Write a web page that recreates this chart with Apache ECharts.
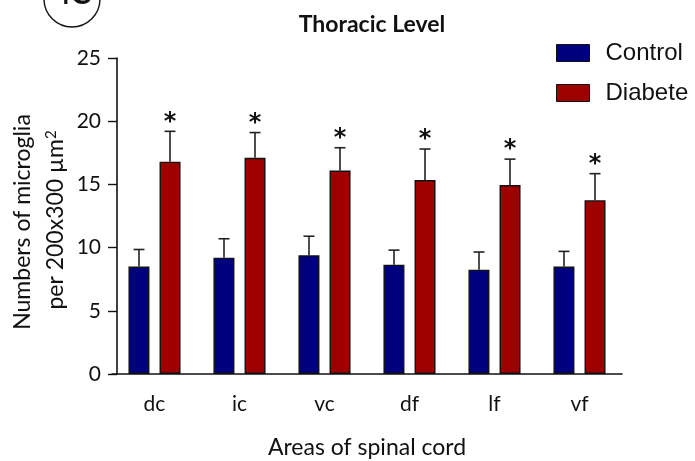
<!DOCTYPE html>
<html>
<head>
<meta charset="utf-8">
<script src="https://cdn.jsdelivr.net/npm/echarts@6/dist/echarts.min.js"></script>
<style>
	html, body { margin: 0; padding: 0; background: #fff; }
	#chart { width: 695px; height: 461px; }
</style>
</head>
<body>
<div id="chart"></div>
<script>
const categories = ["dc", "ic", "vc", "df", "lf", "vf"];
const controlMean = [8.5, 9.2, 9.4, 8.65, 8.25, 8.5];
const controlSem = [1.35, 1.5, 1.5, 1.15, 1.4, 1.2];
const diabeteMean = [16.8, 17.1, 16.1, 15.35, 14.95, 13.75];
const diabeteSem = [2.4, 2.0, 1.8, 2.45, 2.05, 2.1];
const significant = [true, true, true, true, true, true];
const yTicks = [0, 5, 10, 15, 20, 25];

const BODY_FONT = "Lato, 'Open Sans', sans-serif";
const BAR_W = 21;
const BAR_SHIFT = 15.5; // half of (bar width + gap)

// error bar (upper whisker only) + optional star
function errorBar(shift, withStar) {
	return function (params, api) {
		const i = api.value(0);
		const base = api.coord([i, api.value(1)]);
		const tip = api.coord([i, api.value(1) + api.value(2)]);
		const x = base[0] + shift;
		const kids = [
			{
				type: "line",
				shape: { x1: x, y1: base[1], x2: x, y2: tip[1] },
				style: { stroke: "#222", lineWidth: 1.6 },
			},
			{
				type: "line",
				shape: { x1: x - 5.5, y1: tip[1], x2: x + 5.5, y2: tip[1] },
				style: { stroke: "#222", lineWidth: 1.6 },
			},
		];
		if (withStar && significant[i]) {
			kids.push({
				type: "text",
				x: x,
				y: tip[1] + 3,
				style: {
					text: "*",
					font: "bold 24px 'DejaVu Sans', sans-serif",
					fill: "#111",
					align: "center",
					verticalAlign: "bottom",
				},
			});
		}
		return { type: "group", children: kids };
	};
}

const myChart = echarts.init(document.getElementById("chart"));

myChart.setOption({
	animation: false,
	backgroundColor: "#fff",
	grid: { left: 112, right: 73, top: 58, bottom: 87, containLabel: false, outerBoundsMode: "none" },
	title: {
		text: "Thoracic Level",
		left: 367,
		top: 8,
		textAlign: "center",
		textStyle: { fontFamily: BODY_FONT, fontWeight: "bold", fontSize: 23, color: "#111" },
	},
	legend: {
		orient: "vertical",
		left: 551,
		top: 36,
		itemWidth: 33,
		itemHeight: 17,
		itemGap: 16,
		icon: "rect",
		data: ["Control", "Diabete"],
		itemStyle: { borderColor: "#111", borderWidth: 1 },
		textStyle: {
			fontFamily: "'Liberation Sans', Arial, sans-serif",
			fontSize: 24,
			color: "#111",
			padding: [0, 0, 0, 11],
		},
	},
	xAxis: {
		type: "category",
		data: categories,
		name: "Areas of spinal cord",
		nameLocation: "middle",
		nameGap: 62,
		nameTextStyle: { fontFamily: BODY_FONT, fontSize: 23, color: "#111" },
		axisLine: { lineStyle: { color: "#111", width: 1.6 } },
		axisTick: { alignWithLabel: true, length: 8, lineStyle: { color: "#111", width: 1.4 } },
		axisLabel: { fontFamily: BODY_FONT, fontSize: 21, color: "#111", margin: 20 },
	},
	yAxis: {
		type: "value",
		min: 0,
		max: 25,
		interval: 5,
		offset: -5,
		splitLine: { show: false },
		axisLine: { show: true, lineStyle: { color: "#111", width: 1.6 } },
		axisTick: { show: true, length: 9, lineStyle: { color: "#111", width: 1.4 } },
		axisLabel: {
			fontFamily: BODY_FONT,
			fontSize: 21,
			color: "#111",
			margin: 16,
			formatter: v => (yTicks.includes(v) ? String(v) : ""),
		},
	},
	graphic: [
		{
			type: "circle",
			shape: { cx: 72, cy: -1, r: 28 },
			style: { fill: "#fff", stroke: "#111", lineWidth: 1.4 },
		},
		{
			type: "text",
			x: 72,
			y: -6,
			z: 100,
			style: {
				text: "4C",
				font: "bold 30px " + BODY_FONT,
				fill: "#111",
				align: "center",
				verticalAlign: "middle",
			},
		},
		{
			type: "text",
			x: 23,
			y: 222,
			rotation: Math.PI / 2,
			style: {
				text: "Numbers of microglia",
				font: "23px " + BODY_FONT,
				fill: "#111",
				align: "center",
				verticalAlign: "middle",
			},
		},
		{
			type: "text",
			x: 56,
			y: 220,
			rotation: Math.PI / 2,
			style: {
				text: "per 200x300 µm{sup|2}",
				font: "23px " + BODY_FONT,
				fill: "#111",
				align: "center",
				verticalAlign: "middle",
				rich: {
					sup: { fontSize: 15, fontFamily: BODY_FONT, verticalAlign: "top", padding: [0, 0, 10, 0], fill: "#111" },
				},
			},
		},
	],
	series: [
		{
			name: "Control",
			type: "bar",
			data: controlMean,
			barWidth: BAR_W,
			barGap: "48%",
			itemStyle: { color: "#00007f", borderColor: "#111", borderWidth: 1.4 },
		},
		{
			name: "Diabete",
			type: "bar",
			data: diabeteMean,
			barWidth: BAR_W,
			itemStyle: { color: "#9e0000", borderColor: "#111", borderWidth: 1.4 },
		},
		{
			type: "custom",
			renderItem: errorBar(-BAR_SHIFT, false),
			data: controlMean.map((v, i) => [i, v, controlSem[i]]),
			z: 1,
		},
		{
			type: "custom",
			renderItem: errorBar(BAR_SHIFT, true),
			data: diabeteMean.map((v, i) => [i, v, diabeteSem[i]]),
			z: 1,
		},
	],
});
</script>
</body>
</html>
